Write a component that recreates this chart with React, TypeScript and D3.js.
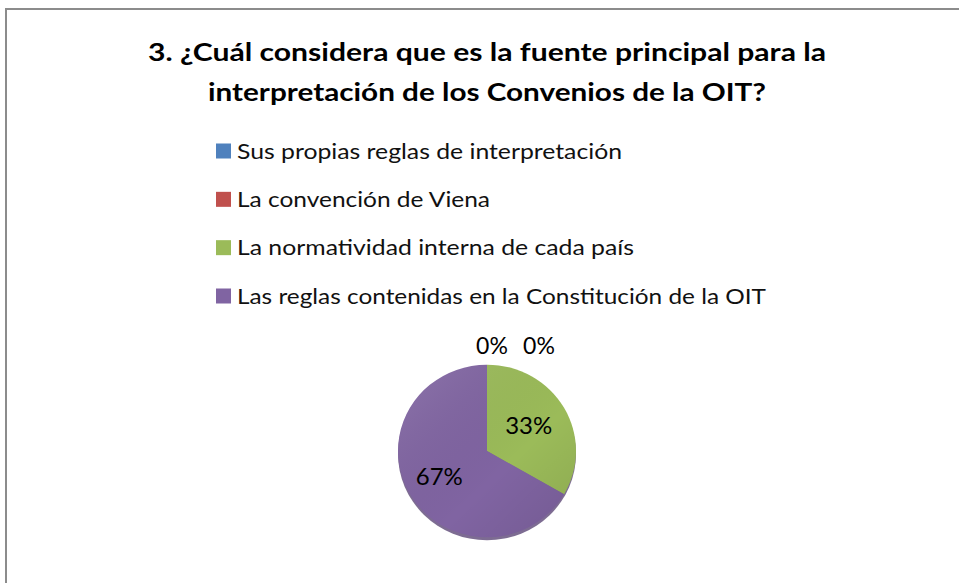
import React from "react";
import * as d3 from "d3";

const titleLines = [
  "3. ¿Cuál considera que es la fuente principal para la",
  "interpretación de los Convenios de la OIT?",
];
const categories = [
  "Sus propias reglas de interpretación",
  "La convención de Viena",
  "La normatividad interna de cada país",
  "Las reglas contenidas en la Constitución de la OIT",
];
const values = [0, 0, 1, 2];
const colors = ["#4F81BD", "#C0504D", "#9BBB59", "#8064A2"];
const legendWidths = [385, 253, 397, 529];

const W = 959;
const H = 583;

export default function App() {
  const cx = 487;
  const cy = 451;
  const r = 89;
  const total = d3.sum(values);
  const pie = d3.pie<number>().sort(null).value((d) => d);
  const arcs = pie(values);
  const arc = d3.arc<d3.PieArcDatum<number>>().innerRadius(0).outerRadius(r);
  const labelArc = d3
    .arc<d3.PieArcDatum<number>>()
    .innerRadius(r * 0.58)
    .outerRadius(r * 0.58);
  const fmt = d3.format(".0%");
  const legendY = d3
    .scalePoint<string>()
    .domain(categories)
    .range([151, 296]);

  let zeroIdx = 0;
  return (
    <svg
      width={W}
      height={H}
      style={{ position: "absolute", left: 0, top: 0, background: "#fff" }}
      fontFamily="Lato, 'Open Sans', sans-serif"
    >
      <defs>
        <linearGradient id="shade" x1="0" y1="0" x2="1" y2="1">
          <stop offset="0" stopColor="#fff" stopOpacity={0.12} />
          <stop offset="0.6" stopColor="#000" stopOpacity={0} />
          <stop offset="1" stopColor="#000" stopOpacity={0.1} />
        </linearGradient>
      </defs>
      <rect x={0} y={0} width={W} height={H} fill="#fff" />
      <path
        d={`M6,${H} L6,9 L${W},9`}
        fill="none"
        stroke="#8c8c8c"
        strokeWidth={2}
      />
      {titleLines.map((t, i) => (
        <text
          key={i}
          x={487}
          y={61 + i * 40}
          textAnchor="middle"
          fontWeight="bold"
          fontSize={25}
          fill="#000"
          textLength={i === 0 ? 678 : 558}
          lengthAdjust="spacingAndGlyphs"
        >
          {t}
        </text>
      ))}
      {categories.map((c, i) => (
        <g key={c} transform={`translate(0,${legendY(c)})`}>
          <rect x={216} y={-7.5} width={15} height={15} fill={colors[i]} />
          <text
            x={237}
            y={7.5}
            fontSize={21}
            fill="#111"
            textLength={legendWidths[i]}
            lengthAdjust="spacingAndGlyphs"
          >
            {c}
          </text>
        </g>
      ))}
      <g transform={`translate(${cx},${cy})`}>
        <g transform="scale(1,0.97)">
          <ellipse cx={0} cy={3} rx={r} ry={r} fill="#5c4777" opacity={0.8} />
          {arcs.map((a, i) =>
            a.value > 0 ? (
              <path key={i} d={arc(a) || ""} fill={colors[i]} />
            ) : null
          )}
          <circle cx={0} cy={0} r={r} fill="url(#shade)" />
        </g>
        {arcs.map((a, i) => {
          const p = a.value / total;
          if (a.value > 0) {
            const [lx, ly] = labelArc.centroid(a);
            return (
              <text
                key={i}
                x={lx - 3}
                y={ly}
                dy="0.35em"
                textAnchor="middle"
                fontSize={24}
                fill="#000"
              >
                {fmt(p)}
              </text>
            );
          }
          const k = zeroIdx++;
          return (
            <text
              key={i}
              x={5 + k * 47}
              y={-r - 8}
              textAnchor="middle"
              fontSize={23}
              fill="#000"
            >
              {fmt(p)}
            </text>
          );
        })}
      </g>
    </svg>
  );
}
